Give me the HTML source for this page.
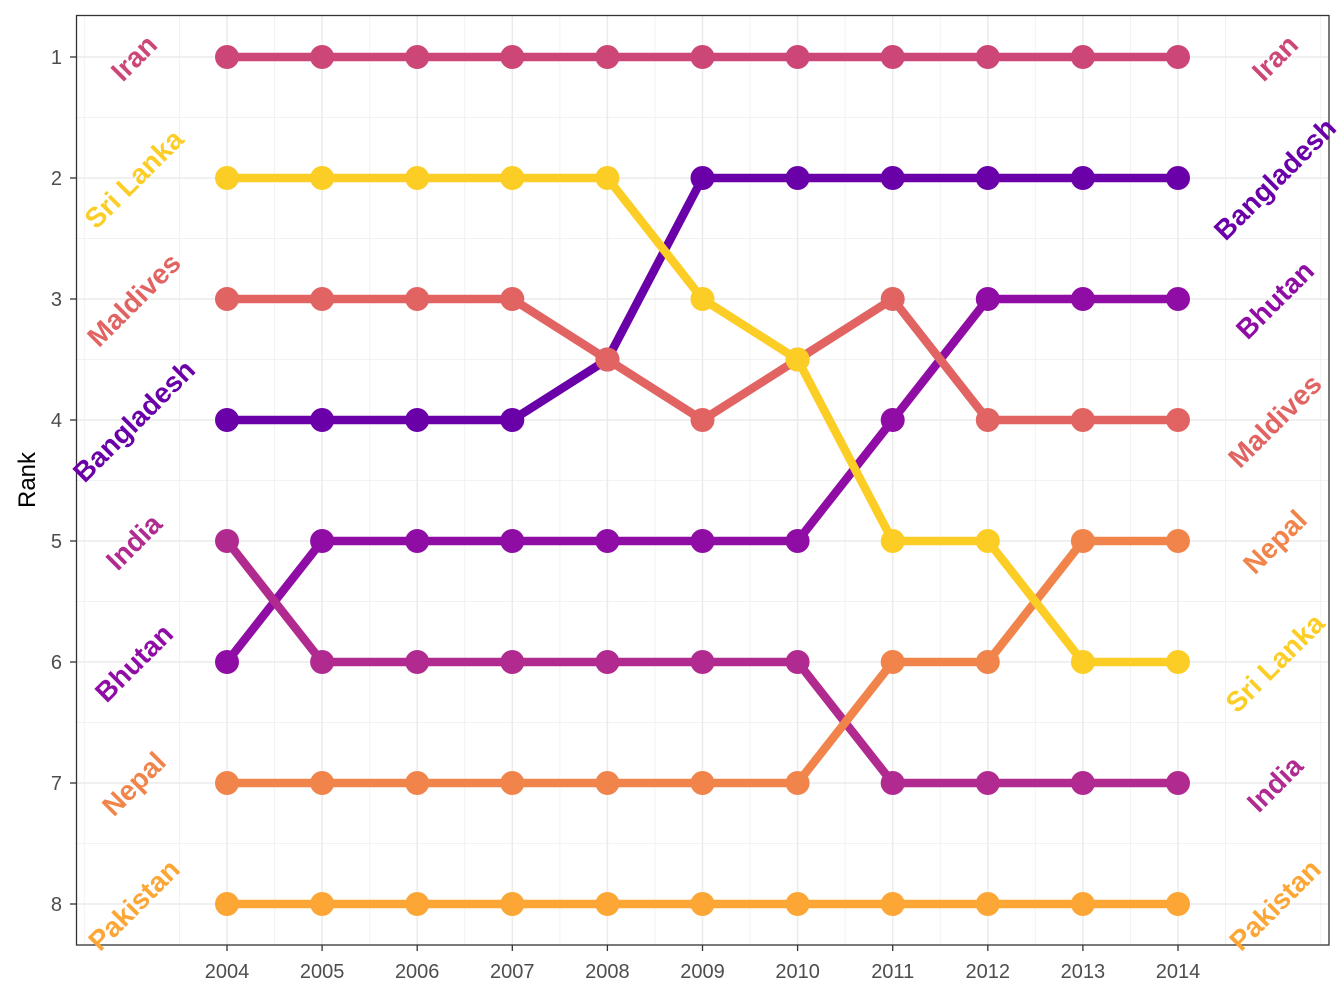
<!DOCTYPE html>
<html><head><meta charset="utf-8"><style>body{margin:0;background:#fff}svg{display:block}</style></head>
<body>
<svg width="1344" height="998" viewBox="0 0 1344 998" xmlns="http://www.w3.org/2000/svg" font-family="Liberation Sans, sans-serif">
<rect x="0" y="0" width="1344" height="998" fill="#fff"/>
<g id="grid"></g>
<g id="series"></g>
<rect x="76.5" y="15.5" width="1252.5" height="929.5" fill="none" stroke="#333" stroke-width="1.3"/>
<g id="axes" fill="#4d4d4d" font-size="20"></g>
<text transform="translate(35,480) rotate(-90)" text-anchor="middle" font-size="24" fill="#000">Rank</text>
<g id="labels" font-weight="bold" font-size="28"></g>
<script>
const NS="http://www.w3.org/2000/svg";
const X=y=>227+(y-2004)*95.1, Y=r=>57+(r-1)*121;
function el(p,t,a,txt){const e=document.createElementNS(NS,t);for(const k in a)e.setAttribute(k,a[k]);if(txt)e.textContent=txt;document.getElementById(p).appendChild(e);return e;}
for(let y=2002.5;y<=2015.5;y+=1)el('grid','line',{x1:X(y),x2:X(y),y1:15,y2:945,stroke:'#f2f2f2','stroke-width':1});
for(let r=1.5;r<=8;r+=1)el('grid','line',{x1:76,x2:1329,y1:Y(r),y2:Y(r),stroke:'#f2f2f2','stroke-width':1});
for(let y=2004;y<=2014;y++)el('grid','line',{x1:X(y),x2:X(y),y1:15,y2:945,stroke:'#ebebeb','stroke-width':1.5});
for(let r=1;r<=8;r++)el('grid','line',{x1:76,x2:1329,y1:Y(r),y2:Y(r),stroke:'#ebebeb','stroke-width':1.5});
const D=[
['Bangladesh','#6A00A8',[4,4,4,4,3.5,2,2,2,2,2,2]],
['Bhutan','#8F0DA4',[6,5,5,5,5,5,5,4,3,3,3]],
['India','#B12A90',[5,6,6,6,6,6,6,7,7,7,7]],
['Iran','#CC4778',[1,1,1,1,1,1,1,1,1,1,1]],
['Maldives','#E16462',[3,3,3,3,3.5,4,3.5,3,4,4,4]],
['Nepal','#F1844B',[7,7,7,7,7,7,7,6,6,5,5]],
['Pakistan','#FCA636',[8,8,8,8,8,8,8,8,8,8,8]],
['Sri Lanka','#FCCE25',[2,2,2,2,2,3,3.5,5,5,6,6]]];
for(const [n,c,v] of D){
 el('series','polyline',{points:v.map((r,i)=>X(2004+i)+','+Y(r)).join(' '),fill:'none',stroke:c,'stroke-width':8.5,'stroke-linejoin':'round'});
 v.forEach((r,i)=>el('series','circle',{cx:X(2004+i),cy:Y(r),r:12,fill:c}));
 el('labels','text',{transform:`translate(${X(2004)-93},${Y(v[0])+1}) rotate(-45)`,'text-anchor':'middle','dominant-baseline':'central',fill:c},n);
 el('labels','text',{transform:`translate(${X(2014)+97},${Y(v[10])+1}) rotate(-45)`,'text-anchor':'middle','dominant-baseline':'central',fill:c},n);
}
for(let r=1;r<=8;r++){el('axes','text',{x:62,y:Y(r)+7,'text-anchor':'end'},r);el('axes','line',{x1:70,x2:76,y1:Y(r),y2:Y(r),stroke:'#333','stroke-width':1.3});}
for(let y=2004;y<=2014;y++){el('axes','text',{x:X(y),y:978,'text-anchor':'middle'},y);el('axes','line',{x1:X(y),x2:X(y),y1:945,y2:951,stroke:'#333','stroke-width':1.3});}
</script>
</svg>
</body></html>
